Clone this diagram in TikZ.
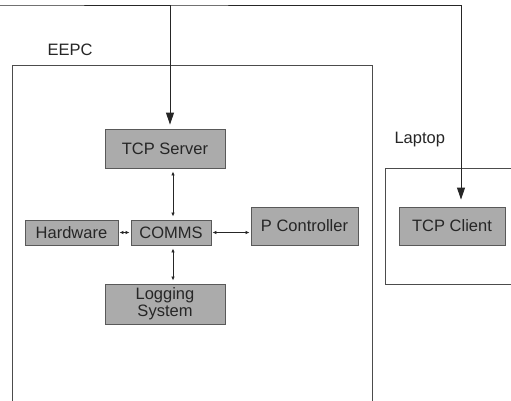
\documentclass[tikz,border=0pt]{standalone}
\usepackage{fontspec}
\setmainfont{Liberation Sans}
\usetikzlibrary{arrows.meta}
\begin{document}
\begin{tikzpicture}[x=1pt,y=-1pt,
  block/.style={draw=black!65, fill=black!33, line width=0.9pt, inner sep=0pt,
    align=center, font=\fontsize{16.5}{18}\selectfont, text=black!85},
  frame/.style={draw=black!70, line width=0.8pt},
  label/.style={font=\fontsize{16.5}{18}\selectfont, text=black!85},
  link/.style={draw=black!85, line width=0.8pt, {Latex[length=4pt,width=3.5pt]}-{Latex[length=4pt,width=3.5pt]}},
  netlink/.style={draw=black!85, line width=0.9pt, {Triangle[length=12pt,width=8pt]}-{Triangle[length=12pt,width=8pt]}}
]
\useasboundingbox (0,0) rectangle (511,400);
\fill[white] (0,0) rectangle (511,400);

% enclosures
\draw[frame] (12,402) -- (12,65) -- (372,65) -- (372,402);
\node[label, anchor=south west] (eepc) at (44,59) {EEPC};
\draw[frame] (513,168) -- (385,168) -- (385,284) -- (513,284);
\node[label, anchor=south west] (laptop) at (391,150) {Laptop};

% components
\node[block, minimum width=120pt, minimum height=39pt] (srv) at (165,148.5) {TCP Server};
\node[block, minimum width=93pt, minimum height=25pt] (hw) at (71.5,232.5) {Hardware};
\node[block, minimum width=80pt, minimum height=25pt] (comms) at (171,232.5) {COMMS};
\node[block, minimum width=107pt, minimum height=38pt] (pc) at (304.5,226) {P Controller};
\node[block, minimum width=120pt, minimum height=40pt, font=\fontsize{16.5}{17}\selectfont] (log) at (165,304) {Logging\\System};
\node[block, minimum width=106pt, minimum height=38pt] (cli) at (452,226) {TCP Client};

% internal links
\draw[link, shorten <=3pt, shorten >=3pt] ([xshift=8pt]srv.south) -- ([xshift=2pt]comms.north);
\draw[link, shorten <=3pt, shorten >=3pt] ([xshift=2pt]comms.south) -- ([xshift=8pt]log.north);
\draw[link, shorten <=1pt, shorten >=1pt] (hw.east) -- (comms.west);
\draw[link, shorten <=1pt, shorten >=1pt] (comms.east) -- (pc.west |- comms.east);

% network link between server and client
\coordinate (up) at (0,5);
\draw[netlink, shorten <=4pt, shorten >=7pt] ([xshift=5pt]srv.north) |- (up) -| ([xshift=9pt]cli.north);
\end{tikzpicture}
\end{document}
